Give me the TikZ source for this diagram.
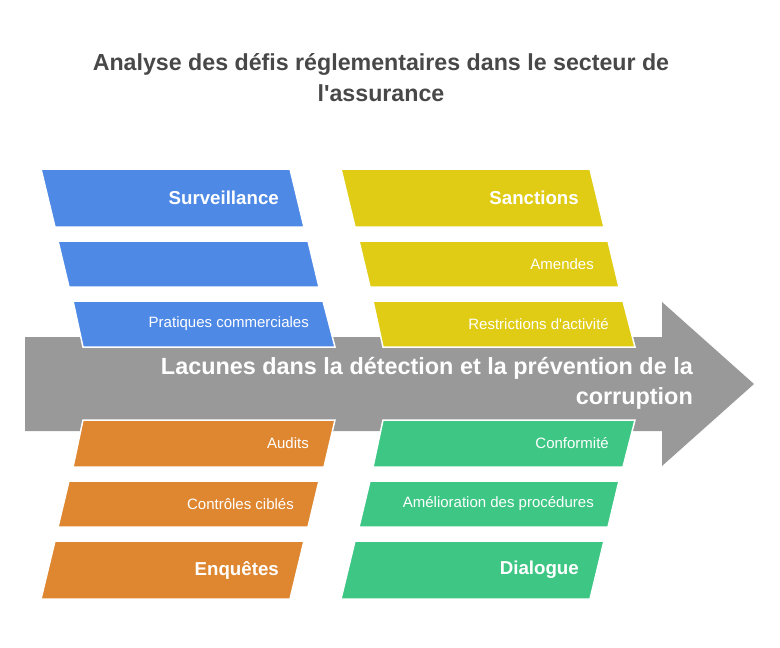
\documentclass[tikz,border=0pt]{standalone}
\usepackage{fontspec}
\setmainfont{Liberation Sans}[Ligatures=TeXOff]
\begin{document}
\begin{tikzpicture}[x=1pt,y=-1pt,
  box/.style={draw=white,line width=1.5pt,line join=miter},
  biglab/.style={anchor=east,text=white,font=\fontsize{18.7}{20}\selectfont\bfseries,inner sep=0pt},
  smalllab/.style={anchor=east,text=white,font=\fontsize{15}{16}\selectfont,inner sep=0pt}]
\definecolor{cblue}{HTML}{4E89E5}
\definecolor{cyellow}{HTML}{E0CB15}
\definecolor{corange}{HTML}{DE8630}
\definecolor{cgreen}{HTML}{3EC684}
\definecolor{cgray}{HTML}{999999}
\definecolor{ctitle}{HTML}{484848}
\useasboundingbox (0,0) rectangle (780,648);
\fill[white] (0,0) rectangle (780,648);
% title
\node[text=ctitle,align=center,font=\fontsize{23.2}{31}\selectfont\bfseries,inner sep=0pt] (title) at (381,77.5)
  {Analyse des défis réglementaires dans le secteur de\\l'assurance};
% arrow
\fill[cgray] (25,337) -- (662,337) -- (662,302) -- (754,384) -- (662,466) -- (662,431) -- (25,431) -- cycle;
% blue
\filldraw[box,fill=cblue] (41,169) -- (290,169) -- (304,227) -- (55,227) -- cycle;
\filldraw[box,fill=cblue] (58,241) -- (308,241) -- (319,287) -- (69,287) -- cycle;
\filldraw[box,fill=cblue] (73,301) -- (323,301) -- (335,347) -- (83,347) -- cycle;
% yellow
\filldraw[box,fill=cyellow] (341,169) -- (590,169) -- (604,227) -- (355,227) -- cycle;
\filldraw[box,fill=cyellow] (359,241) -- (608,241) -- (619,287) -- (370,287) -- cycle;
\filldraw[box,fill=cyellow] (373,301) -- (623,301) -- (635,347) -- (383,347) -- cycle;
% orange
\filldraw[box,fill=corange] (83,420) -- (335,420) -- (324,467) -- (73,467) -- cycle;
\filldraw[box,fill=corange] (69,481) -- (319,481) -- (308,527) -- (58,527) -- cycle;
\filldraw[box,fill=corange] (55,541) -- (304,541) -- (290,599) -- (41,599) -- cycle;
% green
\filldraw[box,fill=cgreen] (383,420) -- (635,420) -- (623,467) -- (373,467) -- cycle;
\filldraw[box,fill=cgreen] (370,481) -- (619,481) -- (608,527) -- (359,527) -- cycle;
\filldraw[box,fill=cgreen] (355,541) -- (604,541) -- (590,599) -- (341,599) -- cycle;
% main text
\node[anchor=east,align=right,text=white,font=\fontsize{23.4}{30}\selectfont\bfseries,inner sep=0pt] (main) at (693,383)
  {Lacunes dans la détection et la prévention de la\\corruption};
% labels
\node[biglab] (surv) at (279,198) {Surveillance};
\node[smalllab] (prat) at (309,324) {Pratiques commerciales};
\node[biglab] (sanc) at (579,198) {Sanctions};
\node[smalllab] (amen) at (594,264) {Amendes};
\node[smalllab] (rest) at (609,324) {Restrictions d'activité};
\node[smalllab] (audi) at (309,443.5) {Audits};
\node[smalllab] (cont) at (294,504) {Contrôles ciblés};
\node[biglab] (enqu) at (279,570) {Enquêtes};
\node[smalllab] (conf) at (609,443.5) {Conformité};
\node[smalllab] (amel) at (594,504) {Amélioration des procédures};
\node[biglab] (dial) at (579,570) {Dialogue};
\end{tikzpicture}
\end{document}
